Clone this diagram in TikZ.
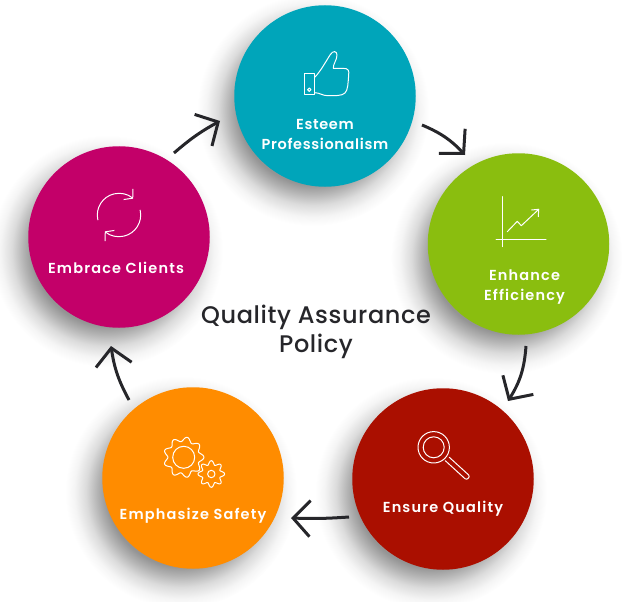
\documentclass[tikz,border=0pt]{standalone}
\usepackage{fontspec}
\setmainfont{Poppins}
\newfontfamily\captionfont{Poppins SemiBold}
\newfontfamily\titlefont{Poppins Medium}
\usetikzlibrary{arrows.meta,positioning}
\definecolor{esteemcol}{RGB}{0,165,186}
\definecolor{enhancecol}{RGB}{138,190,15}
\definecolor{ensurecol}{RGB}{170,15,0}
\definecolor{safetycol}{RGB}{255,140,0}
\definecolor{embracecol}{RGB}{195,0,105}
\definecolor{inkcol}{RGB}{38,38,42}
\pgfdeclareradialshading{softglow}{\pgfpointorigin}{color(0bp)=(black!42); color(16bp)=(black!42); color(18bp)=(black!30); color(20.5bp)=(black!14); color(23bp)=(black!4); color(25bp)=(white); color(50bp)=(white)}
\tikzset{
	bubble/.style = {circle, minimum size=181.5pt, inner sep=0pt, outer sep=0pt},
	softshadow/.style = {shading=softglow},
	caption/.style = {text=white, align=center, font=\captionfont\fontsize{14.5}{20}\selectfont\addfontfeatures{LetterSpace=4.5}},
	wide caption/.style = {text=white, align=center, font=\captionfont\fontsize{14.5}{20}\selectfont\addfontfeatures{LetterSpace=8}},
	flow/.style = {inkcol, line width=3pt, -{Straight Barb[length=17pt,width=36pt,line width=3pt]}},
	icon/.style = {white, line width=1pt, line join=round, line cap=round},
}
\begin{document}
\begin{tikzpicture} [x=1pt, y=-1pt]
	\useasboundingbox (0,0) rectangle (622,602);
	% shadows
	\shade [softshadow] (313,110) circle (116);
	\shade [softshadow] (506.5,258) circle (116);
	\shade [softshadow] (431,493) circle (116);
	\shade [softshadow] (181,492) circle (116);
	\shade [softshadow] (107,251) circle (116);
	% circles
	\node [bubble, fill=esteemcol] (esteem) at (325,96) {};
	\node [bubble, fill=enhancecol] (enhance) at (518.5,244) {};
	\node [bubble, fill=ensurecol] (ensure) at (443,479) {};
	\node [bubble, fill=safetycol] (safety) at (193,478) {};
	\node [bubble, fill=embracecol] (embrace) at (119,237) {};
	% labels
	\node [caption] (esteemtext) at (325,134.5) {Esteem\\Professionalism};
	\node [wide caption] (enhancetext) at (524.5,287.5) {Enhance\\Efficiency};
	\node [wide caption] (ensuretext) at (443,509) {Ensure Quality};
	\node [wide caption] (safetytext) at (193,516) {Emphasize Safety};
	\node [wide caption] (embracetext) at (116,267.5) {Embrace Clients};
	\node [text=inkcol, align=center, font=\titlefont\fontsize{24}{29.5}\selectfont\addfontfeatures{LetterSpace=2.5}] (title) at (316,332) {Quality Assurance\\Policy};
	% arrows
	\draw [flow] ([shift={(97,29)}]esteem.center) to [bend left=12] ([shift={(-53.5,-89)}]enhance.center);
	\draw [flow] ([shift={(7.5,102)}]enhance.center) to [bend left=14] ([shift={(65,-78)}]ensure.center);
	\draw [flow] ([shift={(-94,38)}]ensure.center) to [bend left=3] ([shift={(98,40)}]safety.center);
	\draw [flow] ([shift={(-64,-78)}]safety.center) to [bend left=10] ([shift={(-8,109)}]embrace.center);
	\draw [flow] ([shift={(55,-84)}]embrace.center) to [bend left=6] ([shift={(-105,25)}]esteem.center);
	% thumb
	\draw [icon] (304.7,73.7) rectangle (314.7,95);
	\draw [icon] (309.3,89.7) circle (1.7);
	\draw [icon] (314.7,77.3) .. controls (320,72) and (325,63) .. (330,55) .. controls (333,50) and (337,51) .. (337,55) .. controls (337,60) and (333,64) .. (333.3,68.3) -- (343,68.3) .. controls (349,68.3) and (349,71) .. (348.7,75) .. controls (348,83) and (348,90) .. (345,93) .. controls (342,96) and (335,95.7) .. (328,95.7) .. controls (322,95.7) and (320,92.7) .. (314.7,92.7);
	% chart
	\draw [icon] (502.7,196.7) -- (502.7,246.7);
	\draw [icon] (496,239.7) -- (546,239.7);
	\draw [icon] (507.3,231.7) -- (517.3,221.3) -- (521.3,225.7) -- (538.7,209.3);
	\draw [icon] (531.7,210) -- (538.7,209.3) -- (538.3,216.7);
	% magnifier
	\draw [icon] (433.7,447.3) circle (15.7);
	\draw [icon] (433.7,447.3) circle (10.5);
	\draw [icon] (445.3,460.7) -- (465,478.7) .. controls (467,480.5) and (470.5,477) .. (468.7,475) -- (449.3,457.3);
	% gears
	\draw [icon] plot [domain=0:360, samples=145, smooth] ({183.7+(18+2.2*cos(9*\x))*cos(\x)}, {457.3+(18+2.2*cos(9*\x))*sin(\x)}) -- cycle;
	\draw [icon] (183.7,457.3) circle (11);
	\draw [icon] plot [domain=0:360, samples=145, smooth] ({211.3+(11.3+2*cos(8*\x))*cos(\x)}, {474+(11.3+2*cos(8*\x))*sin(\x)}) -- cycle;
	\draw [icon] (211.3,474) circle (3.7);
	% refresh
	\draw [icon, -{Straight Barb[length=6pt,width=14pt,line width=1pt]}] (119,215) ++(167:21.7) arc (167:311:21.7);
	\draw [icon, -{Straight Barb[length=6pt,width=14pt,line width=1pt]}] (119,215) ++(-13:21.7) arc (-13:131:21.7);
\end{tikzpicture}
\end{document}
